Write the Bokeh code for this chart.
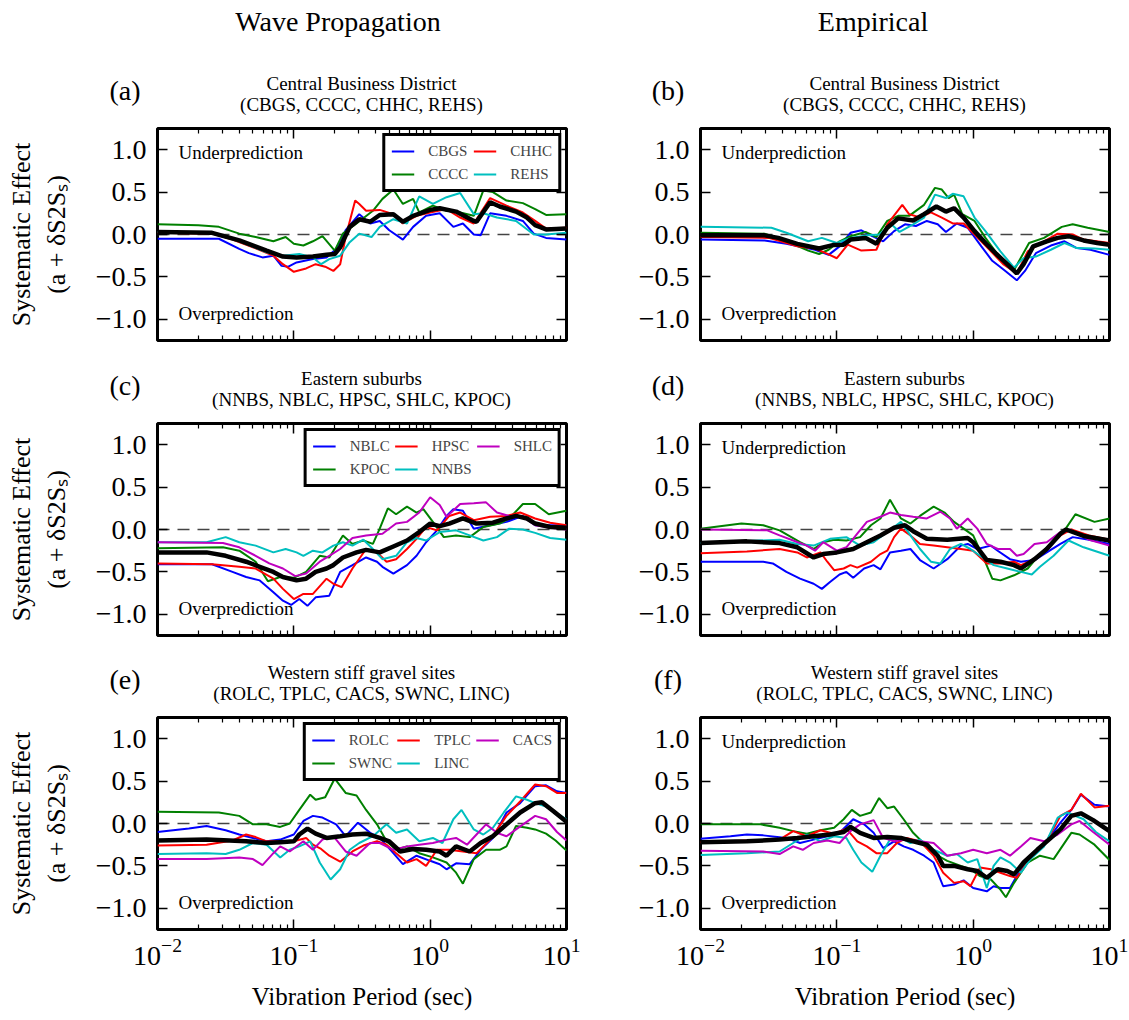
from bokeh.plotting import figure
from bokeh.models import (LogAxis, LinearAxis, FixedTicker, LogTickFormatter, Span, Label,
                          Legend, LegendItem, CustomJSTickFormatter, Div)
from bokeh.layouts import column, row
from bokeh.embed import file_html
from bokeh.resources import INLINE

# ---------------------------------------------------------------------------
# Systematic effect curves, stored as (log10 period [s], value) pairs
# ---------------------------------------------------------------------------

# (a) Central Business District, wave propagation
A_CBGS = [(-2.0, -0.05), (-1.55, -0.05), (-1.4, -0.17), (-1.33, -0.22), (-1.23, -0.27), (-1.15, -0.25),
          (-1.09, -0.37), (-1.04, -0.38), (-0.98, -0.33), (-0.86, -0.29), (-0.76, -0.27), (-0.69, -0.17),
          (-0.62, 0.05), (-0.52, 0.24), (-0.44, 0.13), (-0.37, 0.16), (-0.30, 0.05), (-0.20, -0.06),
          (-0.125, 0.09), (-0.03, 0.22), (0.07, 0.25), (0.17, 0.09), (0.24, 0.13), (0.32, 0.0),
          (0.37, -0.01), (0.44, 0.25), (0.56, 0.22), (0.68, 0.16), (0.76, 0.01), (0.85, -0.04), (1.0, -0.06)]
A_CCCC = [(-2.0, 0.12), (-1.7, 0.11), (-1.55, 0.09), (-1.4, 0.01), (-1.28, -0.03), (-1.15, -0.08),
          (-1.06, -0.03), (-1.0, -0.11), (-0.93, -0.13), (-0.86, -0.08), (-0.79, -0.02), (-0.70, -0.19),
          (-0.64, 0.01), (-0.54, 0.13), (-0.42, 0.28), (-0.35, 0.42), (-0.27, 0.53), (-0.20, 0.36),
          (-0.125, 0.42), (-0.08, 0.26), (0.02, 0.34), (0.12, 0.28), (0.22, 0.26), (0.32, 0.22),
          (0.39, 0.52), (0.46, 0.50), (0.56, 0.40), (0.68, 0.37), (0.77, 0.30), (0.85, 0.23), (1.0, 0.24)]
A_CHHC = [(-2.0, 0.02), (-1.6, 0.01), (-1.45, -0.06), (-1.3, -0.15), (-1.15, -0.25), (-1.08, -0.35),
          (-1.0, -0.44), (-0.91, -0.40), (-0.84, -0.35), (-0.77, -0.38), (-0.71, -0.43), (-0.66, -0.35),
          (-0.62, -0.03), (-0.55, 0.40), (-0.52, 0.36), (-0.47, 0.28), (-0.37, 0.29), (-0.27, 0.24),
          (-0.20, 0.13), (-0.10, 0.22), (0.0, 0.26), (0.12, 0.30), (0.22, 0.20), (0.32, 0.13),
          (0.44, 0.43), (0.56, 0.34), (0.68, 0.26), (0.77, 0.16), (0.85, 0.07), (1.0, 0.08)]
A_REHS = [(-2.0, 0.03), (-1.6, 0.02), (-1.4, -0.08), (-1.2, -0.21), (-1.08, -0.25), (-0.96, -0.23),
          (-0.86, -0.27), (-0.80, -0.35), (-0.74, -0.29), (-0.66, -0.25), (-0.59, -0.09), (-0.52, 0.01),
          (-0.43, -0.03), (-0.37, 0.09), (-0.27, 0.18), (-0.17, 0.13), (-0.08, 0.45), (0.02, 0.36),
          (0.12, 0.44), (0.22, 0.49), (0.32, 0.24), (0.39, 0.25), (0.49, 0.20), (0.63, 0.16),
          (0.76, 0.0), (0.85, 0.0), (1.0, 0.02)]
A_MEAN = [(-2.0, 0.03), (-1.6, 0.02), (-1.4, -0.07), (-1.2, -0.19), (-1.08, -0.26), (-0.98, -0.27),
          (-0.86, -0.26), (-0.76, -0.24), (-0.70, -0.23), (-0.66, -0.15), (-0.59, 0.09), (-0.52, 0.18),
          (-0.44, 0.15), (-0.37, 0.23), (-0.27, 0.24), (-0.20, 0.15), (-0.125, 0.22), (0.0, 0.29),
          (0.07, 0.31), (0.19, 0.27), (0.32, 0.16), (0.34, 0.15), (0.44, 0.38), (0.51, 0.33),
          (0.63, 0.27), (0.71, 0.20), (0.77, 0.11), (0.85, 0.06), (1.0, 0.07)]

# (b) Central Business District, empirical
B_CBGS = [(-2.0, -0.06), (-1.53, -0.07), (-1.37, -0.11), (-1.16, -0.18), (-1.06, -0.24), (-0.98, -0.14),
          (-0.90, 0.02), (-0.82, 0.05), (-0.74, -0.02), (-0.66, -0.08), (-0.58, 0.04), (-0.50, 0.12),
          (-0.42, 0.10), (-0.34, 0.16), (-0.26, 0.12), (-0.20, 0.03), (-0.12, 0.13), (-0.04, 0.08),
          (0.06, -0.14), (0.14, -0.31), (0.22, -0.41), (0.32, -0.54), (0.38, -0.43), (0.46, -0.22),
          (0.57, -0.13), (0.67, -0.08), (0.76, -0.16), (0.86, -0.18), (1.0, -0.24)]
B_CCCC = [(-2.0, 0.02), (-1.53, 0.01), (-1.37, -0.08), (-1.21, -0.19), (-1.13, -0.23), (-1.06, -0.18),
          (-0.98, -0.08), (-0.90, -0.02), (-0.79, 0.03), (-0.71, -0.03), (-0.63, 0.16), (-0.55, 0.22),
          (-0.47, 0.22), (-0.36, 0.35), (-0.28, 0.55), (-0.23, 0.53), (-0.18, 0.43), (-0.14, 0.47),
          (-0.08, 0.24), (0.01, 0.16), (0.09, -0.04), (0.20, -0.28), (0.30, -0.42), (0.41, -0.10),
          (0.52, -0.04), (0.65, 0.09), (0.73, 0.12), (0.84, 0.08), (1.0, 0.03)]
B_CHHC = [(-2.0, -0.03), (-1.5, -0.04), (-1.43, -0.07), (-1.29, -0.14), (-1.16, -0.165), (-1.08, -0.22),
          (-1.0, -0.28), (-0.92, -0.12), (-0.82, -0.19), (-0.71, -0.18), (-0.63, 0.12), (-0.52, 0.35),
          (-0.47, 0.24), (-0.39, 0.20), (-0.31, 0.26), (-0.23, 0.20), (-0.15, 0.13), (-0.07, 0.13),
          (0.01, 0.0), (0.12, -0.18), (0.22, -0.35), (0.32, -0.46), (0.40, -0.20), (0.52, -0.08),
          (0.62, 0.01), (0.73, 0.0), (0.81, -0.06), (1.0, -0.10)]
B_REHS = [(-2.0, 0.09), (-1.48, 0.08), (-1.37, 0.02), (-1.21, -0.08), (-1.11, -0.04), (-1.0, -0.10),
          (-0.90, -0.04), (-0.77, -0.01), (-0.69, 0.0), (-0.60, 0.12), (-0.54, 0.03), (-0.44, 0.12),
          (-0.36, 0.20), (-0.28, 0.47), (-0.20, 0.43), (-0.15, 0.48), (-0.07, 0.45), (0.01, 0.20),
          (0.09, 0.04), (0.20, -0.20), (0.30, -0.39), (0.37, -0.28), (0.46, -0.26), (0.57, -0.18),
          (0.67, -0.10), (0.76, -0.16), (0.89, -0.165), (1.0, -0.18)]
B_MEAN = [(-2.0, -0.01), (-1.53, -0.01), (-1.43, -0.04), (-1.29, -0.11), (-1.13, -0.165), (-1.03, -0.125),
          (-0.95, -0.12), (-0.90, -0.06), (-0.79, -0.04), (-0.71, -0.11), (-0.63, 0.08), (-0.55, 0.19),
          (-0.44, 0.165), (-0.36, 0.24), (-0.27, 0.33), (-0.20, 0.27), (-0.14, 0.31), (-0.07, 0.20),
          (0.01, 0.04), (0.09, -0.10), (0.17, -0.23), (0.25, -0.35), (0.32, -0.46), (0.37, -0.35),
          (0.44, -0.14), (0.54, -0.08), (0.62, -0.04), (0.70, -0.02), (0.81, -0.07), (0.91, -0.10), (1.0, -0.12)]

# (c) Eastern suburbs, wave propagation
C_NBLC = [(-2.0, -0.41), (-1.6, -0.41), (-1.45, -0.5), (-1.35, -0.56), (-1.25, -0.6), (-1.15, -0.74),
          (-1.08, -0.84), (-1.02, -0.89), (-0.96, -0.82), (-0.90, -0.90), (-0.84, -0.80), (-0.74, -0.78),
          (-0.66, -0.5), (-0.57, -0.42), (-0.47, -0.33), (-0.39, -0.38), (-0.35, -0.44), (-0.27, -0.52),
          (-0.17, -0.42), (-0.10, -0.31), (-0.03, -0.15), (0.05, -0.01), (0.12, 0.16), (0.17, 0.24),
          (0.24, 0.22), (0.32, 0.01), (0.44, 0.05), (0.56, 0.09), (0.68, 0.16), (0.77, 0.05), (0.88, 0.05), (1.0, 0.05)]
C_KPOC = [(-2.0, -0.22), (-1.52, -0.21), (-1.4, -0.25), (-1.28, -0.38), (-1.19, -0.61), (-1.10, -0.56),
          (-1.0, -0.57), (-0.91, -0.5), (-0.81, -0.31), (-0.74, -0.33), (-0.64, -0.07), (-0.57, -0.17),
          (-0.49, -0.13), (-0.42, -0.17), (-0.37, 0.01), (-0.31, 0.25), (-0.25, 0.18), (-0.17, 0.27),
          (-0.10, 0.20), (-0.05, 0.24), (0.02, 0.09), (0.10, -0.09), (0.19, -0.07), (0.29, -0.09),
          (0.39, 0.03), (0.51, 0.07), (0.58, 0.13), (0.68, 0.30), (0.77, 0.30), (0.87, 0.18), (1.0, 0.22)]
C_HPSC = [(-2.0, -0.40), (-1.6, -0.41), (-1.4, -0.44), (-1.28, -0.46), (-1.15, -0.58), (-1.08, -0.70),
          (-1.0, -0.82), (-0.93, -0.76), (-0.86, -0.76), (-0.76, -0.58), (-0.71, -0.64), (-0.65, -0.68),
          (-0.57, -0.46), (-0.47, -0.23), (-0.39, -0.27), (-0.32, -0.38), (-0.25, -0.35), (-0.17, -0.23),
          (-0.10, -0.11), (-0.03, 0.03), (0.05, -0.01), (0.14, 0.16), (0.22, 0.20), (0.32, 0.11),
          (0.44, 0.15), (0.56, 0.16), (0.66, 0.20), (0.77, 0.13), (0.88, 0.08), (1.0, 0.05)]
C_NNBS = [(-2.0, -0.15), (-1.64, -0.15), (-1.5, -0.09), (-1.4, -0.15), (-1.28, -0.19), (-1.15, -0.27),
          (-1.06, -0.23), (-0.98, -0.27), (-0.93, -0.31), (-0.86, -0.25), (-0.79, -0.27), (-0.71, -0.19),
          (-0.64, -0.15), (-0.57, -0.19), (-0.49, -0.12), (-0.42, -0.23), (-0.35, -0.35), (-0.25, -0.31),
          (-0.17, -0.15), (-0.10, -0.10), (-0.03, -0.13), (0.07, -0.03), (0.19, -0.01), (0.29, -0.07),
          (0.39, -0.13), (0.49, -0.09), (0.58, 0.01), (0.68, 0.0), (0.77, -0.04), (0.88, -0.10), (1.0, -0.12)]
C_SHLC = [(-2.0, -0.15), (-1.52, -0.16), (-1.4, -0.21), (-1.28, -0.31), (-1.18, -0.40), (-1.08, -0.46),
          (-0.99, -0.55), (-0.91, -0.52), (-0.81, -0.38), (-0.74, -0.31), (-0.66, -0.23), (-0.57, -0.10),
          (-0.47, -0.07), (-0.35, -0.05), (-0.25, 0.07), (-0.17, 0.09), (-0.08, 0.20), (0.0, 0.38),
          (0.07, 0.29), (0.12, 0.15), (0.22, 0.30), (0.32, 0.31), (0.41, 0.32), (0.49, 0.20),
          (0.58, 0.16), (0.68, 0.15), (0.77, 0.05), (0.88, 0.02), (1.0, 0.0)]
C_MEAN = [(-2.0, -0.27), (-1.64, -0.27), (-1.5, -0.31), (-1.35, -0.38), (-1.25, -0.44), (-1.15, -0.50),
          (-1.08, -0.56), (-0.98, -0.60), (-0.91, -0.58), (-0.84, -0.50), (-0.76, -0.46), (-0.71, -0.42),
          (-0.64, -0.33), (-0.54, -0.27), (-0.47, -0.24), (-0.37, -0.27), (-0.27, -0.20), (-0.17, -0.13),
          (-0.08, -0.03), (0.0, 0.07), (0.07, 0.04), (0.14, 0.07), (0.24, 0.13), (0.34, 0.07),
          (0.46, 0.08), (0.56, 0.13), (0.63, 0.16), (0.71, 0.13), (0.77, 0.07), (0.88, 0.03), (1.0, 0.02)]

# (d) Eastern suburbs, empirical
D_NBLC = [(-2.0, -0.38), (-1.54, -0.38), (-1.47, -0.40), (-1.37, -0.50), (-1.27, -0.58), (-1.17, -0.64),
          (-1.11, -0.70), (-1.05, -0.62), (-0.98, -0.53), (-0.93, -0.50), (-0.88, -0.57), (-0.80, -0.46),
          (-0.73, -0.42), (-0.68, -0.47), (-0.61, -0.27), (-0.53, -0.25), (-0.46, -0.23), (-0.39, -0.36),
          (-0.29, -0.46), (-0.19, -0.35), (-0.09, -0.19), (-0.04, -0.17), (0.03, -0.23), (0.13, -0.19),
          (0.18, -0.25), (0.27, -0.35), (0.35, -0.38), (0.45, -0.36), (0.54, -0.27), (0.64, -0.17),
          (0.73, -0.09), (0.85, -0.12), (1.0, -0.17)]
D_KPOC = [(-2.0, 0.01), (-1.7, 0.07), (-1.54, 0.05), (-1.42, -0.01), (-1.27, -0.15), (-1.17, -0.23),
          (-1.10, -0.15), (-1.02, -0.12), (-0.93, -0.13), (-0.83, -0.09), (-0.75, 0.05), (-0.68, 0.13),
          (-0.61, 0.35), (-0.53, 0.13), (-0.46, 0.07), (-0.39, 0.16), (-0.29, 0.27), (-0.21, 0.20),
          (-0.14, 0.09), (-0.07, 0.01), (0.0, -0.07), (0.08, -0.35), (0.14, -0.58), (0.20, -0.60),
          (0.30, -0.54), (0.40, -0.46), (0.49, -0.29), (0.59, -0.13), (0.67, -0.01), (0.75, 0.18),
          (0.89, 0.09), (1.0, 0.13)]
D_HPSC = [(-2.0, -0.28), (-1.66, -0.26), (-1.42, -0.23), (-1.29, -0.27), (-1.22, -0.33), (-1.12, -0.27),
          (-1.07, -0.38), (-1.02, -0.48), (-0.95, -0.46), (-0.90, -0.42), (-0.85, -0.45), (-0.75, -0.38),
          (-0.68, -0.29), (-0.63, -0.25), (-0.58, -0.09), (-0.53, 0.01), (-0.46, -0.07), (-0.39, -0.17),
          (-0.29, -0.19), (-0.19, -0.21), (-0.09, -0.23), (0.0, -0.25), (0.10, -0.40), (0.20, -0.40),
          (0.30, -0.38), (0.35, -0.42), (0.45, -0.35), (0.54, -0.23), (0.64, -0.07), (0.72, 0.0),
          (0.85, -0.07), (1.0, -0.12)]
D_NNBS = [(-2.0, -0.16), (-1.42, -0.12), (-1.29, -0.17), (-1.17, -0.19), (-1.05, -0.11), (-0.93, -0.09),
          (-0.83, -0.19), (-0.73, -0.15), (-0.63, -0.03), (-0.53, 0.09), (-0.46, -0.07), (-0.39, -0.23),
          (-0.31, -0.38), (-0.24, -0.40), (-0.17, -0.23), (-0.09, -0.17), (-0.02, -0.23), (0.05, -0.31),
          (0.15, -0.42), (0.25, -0.46), (0.35, -0.50), (0.43, -0.53), (0.49, -0.44), (0.59, -0.31),
          (0.70, -0.13), (0.81, -0.21), (1.0, -0.31)]
D_SHLC = [(-2.0, 0.0), (-1.51, -0.01), (-1.42, -0.07), (-1.32, -0.13), (-1.22, -0.19), (-1.16, -0.25),
          (-1.10, -0.15), (-1.0, -0.25), (-0.93, -0.21), (-0.85, -0.05), (-0.78, 0.09), (-0.68, 0.15),
          (-0.61, 0.20), (-0.53, 0.17), (-0.44, 0.15), (-0.34, 0.13), (-0.24, 0.21), (-0.17, 0.13),
          (-0.12, 0.01), (-0.04, 0.13), (0.03, 0.01), (0.10, -0.17), (0.18, -0.23), (0.27, -0.23),
          (0.32, -0.31), (0.37, -0.29), (0.45, -0.17), (0.54, -0.15), (0.64, -0.03), (0.72, -0.01),
          (0.85, -0.12), (1.0, -0.19)]
D_MEAN = [(-2.0, -0.16), (-1.66, -0.14), (-1.42, -0.16), (-1.29, -0.21), (-1.17, -0.33), (-1.10, -0.29),
          (-1.0, -0.27), (-0.88, -0.23), (-0.78, -0.15), (-0.68, -0.07), (-0.58, 0.02), (-0.50, 0.05),
          (-0.44, -0.02), (-0.34, -0.11), (-0.19, -0.12), (-0.04, -0.10), (0.0, -0.15), (0.10, -0.36),
          (0.20, -0.38), (0.30, -0.42), (0.35, -0.46), (0.45, -0.35), (0.54, -0.23), (0.64, -0.05),
          (0.68, 0.0), (0.82, -0.08), (1.0, -0.13)]

# (e) Western stiff gravel sites, wave propagation
E_ROLC = [(-2.0, -0.10), (-1.77, -0.06), (-1.64, -0.03), (-1.5, -0.08), (-1.4, -0.13), (-1.3, -0.17),
          (-1.2, -0.21), (-1.1, -0.19), (-1.0, -0.13), (-0.93, 0.03), (-0.86, 0.09), (-0.79, 0.07),
          (-0.69, -0.01), (-0.62, -0.15), (-0.53, 0.01), (-0.44, -0.11), (-0.37, -0.17), (-0.27, -0.35),
          (-0.20, -0.48), (-0.10, -0.38), (0.0, -0.44), (0.07, -0.48), (0.12, -0.54), (0.19, -0.47),
          (0.29, -0.48), (0.37, -0.31), (0.46, -0.17), (0.56, 0.13), (0.66, 0.24), (0.77, 0.44),
          (0.85, 0.45), (0.93, 0.38), (1.0, 0.36)]
E_SWNC = [(-2.0, 0.14), (-1.55, 0.13), (-1.4, 0.09), (-1.3, -0.01), (-1.2, -0.01), (-1.1, -0.04),
          (-1.03, 0.0), (-0.96, 0.16), (-0.88, 0.34), (-0.84, 0.28), (-0.77, 0.31), (-0.70, 0.53),
          (-0.62, 0.36), (-0.54, 0.33), (-0.47, 0.16), (-0.39, -0.01), (-0.32, -0.21), (-0.25, -0.31),
          (-0.17, -0.27), (-0.08, -0.35), (0.02, -0.40), (0.12, -0.46), (0.19, -0.58), (0.24, -0.71),
          (0.32, -0.42), (0.41, -0.31), (0.51, -0.31), (0.56, -0.27), (0.63, -0.03), (0.71, -0.05),
          (0.77, -0.07), (0.85, -0.12), (0.92, -0.2), (1.0, -0.32)]
E_TPLC = [(-2.0, -0.26), (-1.64, -0.25), (-1.45, -0.2), (-1.35, -0.13), (-1.28, -0.16), (-1.2, -0.21),
          (-1.0, -0.21), (-0.91, -0.17), (-0.86, -0.25), (-0.80, -0.30), (-0.74, -0.38), (-0.66, -0.45),
          (-0.57, -0.33), (-0.49, -0.26), (-0.39, -0.21), (-0.32, -0.25), (-0.25, -0.35), (-0.17, -0.46),
          (-0.10, -0.42), (-0.03, -0.50), (0.05, -0.31), (0.14, -0.31), (0.24, -0.33), (0.34, -0.35),
          (0.44, -0.19), (0.56, 0.09), (0.66, 0.26), (0.77, 0.46), (0.85, 0.44), (0.93, 0.36), (1.0, 0.36)]
E_LINC = [(-2.0, -0.36), (-1.64, -0.35), (-1.5, -0.36), (-1.4, -0.31), (-1.3, -0.23), (-1.2, -0.25),
          (-1.1, -0.40), (-1.03, -0.31), (-0.96, -0.27), (-0.88, -0.21), (-0.81, -0.46), (-0.73, -0.66),
          (-0.66, -0.54), (-0.59, -0.31), (-0.52, -0.23), (-0.42, -0.15), (-0.32, -0.01), (-0.25, -0.11),
          (-0.17, -0.07), (-0.08, -0.21), (0.02, -0.17), (0.09, -0.23), (0.17, 0.05), (0.23, 0.16),
          (0.32, -0.07), (0.39, -0.13), (0.46, -0.05), (0.54, 0.13), (0.63, 0.32), (0.71, 0.28),
          (0.77, 0.24), (0.85, 0.2), (0.93, 0.12), (1.0, 0.05)]
E_CACS = [(-2.0, -0.42), (-1.64, -0.42), (-1.4, -0.40), (-1.3, -0.42), (-1.23, -0.49), (-1.15, -0.35),
          (-1.1, -0.27), (-1.03, -0.33), (-0.93, -0.21), (-0.86, -0.31), (-0.79, -0.19), (-0.71, -0.15),
          (-0.62, -0.33), (-0.54, -0.38), (-0.44, -0.23), (-0.37, -0.23), (-0.27, -0.31), (-0.17, -0.27),
          (-0.08, -0.25), (0.02, -0.23), (0.12, -0.19), (0.19, -0.17), (0.27, -0.25), (0.34, -0.13),
          (0.41, -0.01), (0.49, -0.11), (0.56, -0.15), (0.63, -0.07), (0.77, 0.09), (0.85, 0.05),
          (0.93, -0.1), (1.0, -0.2)]
E_MEAN = [(-2.0, -0.20), (-1.64, -0.19), (-1.35, -0.21), (-1.2, -0.23), (-1.1, -0.22), (-1.0, -0.21),
          (-0.96, -0.13), (-0.90, -0.06), (-0.84, -0.12), (-0.76, -0.17), (-0.66, -0.15), (-0.57, -0.13),
          (-0.47, -0.12), (-0.37, -0.17), (-0.30, -0.21), (-0.22, -0.33), (-0.125, -0.30), (-0.03, -0.31),
          (0.07, -0.33), (0.12, -0.38), (0.19, -0.27), (0.29, -0.33), (0.37, -0.23), (0.46, -0.15),
          (0.56, -0.01), (0.66, 0.13), (0.77, 0.24), (0.82, 0.25), (0.90, 0.15), (1.0, 0.02)]

# (f) Western stiff gravel sites, empirical
F_ROLC = [(-2.0, -0.18), (-1.78, -0.15), (-1.66, -0.13), (-1.54, -0.14), (-1.37, -0.17), (-1.27, -0.23),
          (-1.17, -0.19), (-1.07, -0.15), (-0.98, -0.11), (-0.88, 0.05), (-0.80, -0.01), (-0.73, -0.11),
          (-0.66, -0.29), (-0.58, -0.21), (-0.51, -0.27), (-0.44, -0.31), (-0.36, -0.38), (-0.29, -0.46),
          (-0.22, -0.74), (-0.14, -0.72), (-0.07, -0.67), (0.0, -0.76), (0.10, -0.80), (0.15, -0.74),
          (0.20, -0.76), (0.27, -0.76), (0.32, -0.62), (0.42, -0.40), (0.54, -0.21), (0.64, 0.01),
          (0.72, 0.16), (0.79, 0.34), (0.89, 0.22), (1.0, 0.20)]
F_SWNC = [(-2.0, -0.01), (-1.56, -0.01), (-1.42, -0.05), (-1.32, -0.09), (-1.22, -0.12), (-1.12, -0.08),
          (-1.02, -0.05), (-0.95, 0.05), (-0.89, 0.16), (-0.83, 0.09), (-0.75, 0.13), (-0.69, 0.30),
          (-0.63, 0.18), (-0.58, 0.20), (-0.51, 0.05), (-0.44, -0.11), (-0.34, -0.27), (-0.26, -0.38),
          (-0.19, -0.44), (-0.09, -0.50), (-0.02, -0.54), (0.05, -0.62), (0.13, -0.66), (0.20, -0.78),
          (0.24, -0.87), (0.30, -0.70), (0.40, -0.46), (0.49, -0.38), (0.59, -0.42), (0.72, -0.11),
          (0.78, -0.13), (0.89, -0.25), (1.0, -0.43)]
F_TPLC = [(-2.0, -0.22), (-1.66, -0.20), (-1.42, -0.19), (-1.32, -0.09), (-1.22, -0.15), (-1.12, -0.08),
          (-1.02, -0.12), (-0.93, -0.06), (-0.85, -0.21), (-0.78, -0.27), (-0.71, -0.35), (-0.63, -0.35),
          (-0.56, -0.23), (-0.49, -0.17), (-0.39, -0.21), (-0.29, -0.38), (-0.22, -0.58), (-0.14, -0.70),
          (-0.07, -0.68), (-0.02, -0.74), (0.05, -0.52), (0.13, -0.54), (0.20, -0.58), (0.27, -0.62),
          (0.32, -0.64), (0.42, -0.40), (0.54, -0.21), (0.64, 0.09), (0.72, 0.16), (0.79, 0.35),
          (0.89, 0.19), (1.0, 0.21)]
F_LINC = [(-2.0, -0.37), (-1.66, -0.35), (-1.42, -0.33), (-1.32, -0.23), (-1.22, -0.13), (-1.12, -0.21),
          (-1.02, -0.15), (-0.93, -0.17), (-0.88, -0.31), (-0.82, -0.46), (-0.74, -0.57), (-0.68, -0.38),
          (-0.61, -0.19), (-0.53, -0.17), (-0.46, -0.23), (-0.39, -0.19), (-0.29, -0.31), (-0.19, -0.38),
          (-0.12, -0.36), (-0.04, -0.46), (0.03, -0.42), (0.10, -0.76), (0.15, -0.50), (0.20, -0.40),
          (0.27, -0.46), (0.35, -0.58), (0.42, -0.42), (0.52, -0.27), (0.62, 0.07), (0.69, 0.13),
          (0.81, 0.05), (0.90, -0.1), (1.0, -0.21)]
F_CACS = [(-2.0, -0.32), (-1.54, -0.33), (-1.42, -0.36), (-1.32, -0.27), (-1.25, -0.31), (-1.17, -0.23),
          (-1.07, -0.20), (-0.98, -0.23), (-0.90, -0.09), (-0.83, -0.01), (-0.73, 0.04), (-0.66, -0.17),
          (-0.58, -0.21), (-0.49, -0.19), (-0.39, -0.21), (-0.29, -0.23), (-0.19, -0.38), (-0.09, -0.35),
          (0.0, -0.31), (0.10, -0.35), (0.20, -0.31), (0.27, -0.38), (0.35, -0.27), (0.42, -0.17),
          (0.52, -0.21), (0.62, -0.13), (0.72, -0.01), (0.78, 0.03), (0.88, -0.1), (1.0, -0.25)]
F_MEAN = [(-2.0, -0.22), (-1.66, -0.21), (-1.42, -0.19), (-1.29, -0.17), (-1.17, -0.15), (-1.05, -0.13),
          (-0.95, -0.10), (-0.90, -0.04), (-0.83, -0.11), (-0.73, -0.17), (-0.63, -0.16), (-0.53, -0.17),
          (-0.44, -0.21), (-0.34, -0.25), (-0.26, -0.38), (-0.22, -0.50), (-0.14, -0.50), (-0.04, -0.54),
          (0.03, -0.56), (0.10, -0.64), (0.18, -0.54), (0.25, -0.56), (0.30, -0.60), (0.37, -0.46),
          (0.47, -0.31), (0.57, -0.17), (0.64, -0.07), (0.72, 0.09), (0.79, 0.12), (0.88, 0.04), (1.0, -0.09)]

COLUMN_TITLES = ["Wave Propagation", "Empirical"]
GROUP_NAMES = ["Central Business District", "Eastern suburbs", "Western stiff gravel sites"]
GROUP_SITES = ["(CBGS, CCCC, CHHC, REHS)", "(NNBS, NBLC, HPSC, SHLC, KPOC)", "(ROLC, TPLC, CACS, SWNC, LINC)"]
PANEL_LETTERS = [["(a)", "(b)"], ["(c)", "(d)"], ["(e)", "(f)"]]
Y_TICKS = [-1.0, -0.5, 0.0, 0.5, 1.0]
X_DECADES = [-2, -1, 0, 1]

# site series per row, in the matplotlib colour-cycle order b, g, r, c, m
ROW_SERIES = [
    [[("CBGS", A_CBGS), ("CCCC", A_CCCC), ("CHHC", A_CHHC), ("REHS", A_REHS)],
     [("CBGS", B_CBGS), ("CCCC", B_CCCC), ("CHHC", B_CHHC), ("REHS", B_REHS)]],
    [[("NBLC", C_NBLC), ("KPOC", C_KPOC), ("HPSC", C_HPSC), ("NNBS", C_NNBS), ("SHLC", C_SHLC)],
     [("NBLC", D_NBLC), ("KPOC", D_KPOC), ("HPSC", D_HPSC), ("NNBS", D_NNBS), ("SHLC", D_SHLC)]],
    [[("ROLC", E_ROLC), ("SWNC", E_SWNC), ("TPLC", E_TPLC), ("LINC", E_LINC), ("CACS", E_CACS)],
     [("ROLC", F_ROLC), ("SWNC", F_SWNC), ("TPLC", F_TPLC), ("LINC", F_LINC), ("CACS", F_CACS)]],
]
ROW_MEANS = [[A_MEAN, B_MEAN], [C_MEAN, D_MEAN], [E_MEAN, F_MEAN]]

CYCLE = ["#0000ff", "#008000", "#ff0000", "#00bfbf", "#bf00bf"]
SERIF = "Liberation Serif"

# page geometry (pixels)
FRAME_W, FRAME_H = 409, 212
COL_W = [580, 549]
COL_BL = [157, 120]
COL_BR = [COL_W[0] - COL_BL[0] - FRAME_W, COL_W[1] - COL_BL[1] - FRAME_W]
COL_TITLE_X = [338, 293]        # column titles sit slightly left of the frame centre
HEAD_H = [120, 63, 61]          # heading strip above each row of panels
FIG_BT = 8
FIG_BB = [12, 13, 91]

BLANK = "return '';"
MINUS = "return tick.toFixed(1).replace('-', '\u2212');"


def xy(series):
    return [10.0 ** t for t, _ in series], [v for _, v in series]


def style_axis(ax, labelled, size="28px"):
    ax.axis_line_color = None
    ax.major_tick_in = 10
    ax.major_tick_out = 0
    ax.minor_tick_in = 5
    ax.minor_tick_out = 0
    ax.major_tick_line_width = 1.5
    ax.minor_tick_line_width = 1.2
    ax.major_tick_line_color = "black"
    ax.minor_tick_line_color = "black"
    ax.major_label_text_font = SERIF
    ax.major_label_text_color = "black"
    if labelled:
        ax.major_label_text_font_size = size
    else:
        ax.major_label_text_font_size = "1px"
        ax.major_label_standoff = 0


def axis_title(ax, text, size, standoff):
    ax.axis_label = text
    ax.axis_label_text_font = SERIF
    ax.axis_label_text_font_size = size
    ax.axis_label_text_font_style = "normal"
    ax.axis_label_text_color = "black"
    ax.axis_label_standoff = standoff


def x_ticker():
    majors = [10.0 ** d for d in X_DECADES]
    minors = [m * 10.0 ** d for d in X_DECADES[:-1] for m in range(2, 10)]
    return FixedTicker(ticks=majors, minor_ticks=minors)


def y_ticker():
    return FixedTicker(ticks=Y_TICKS, minor_ticks=[])


def inner_text(p, s, x, y):
    p.add_layout(Label(x=x, y=y, x_units="screen", y_units="screen", text=s,
                       text_font=SERIF, text_font_size="19px", text_align="left",
                       text_baseline="middle", text_color="black"))


def heading(r, c):
    """Strip of text above a panel: column title, panel letter and site group."""
    w, h = COL_W[c], HEAD_H[r]
    cx = COL_BL[c] + FRAME_W / 2
    top = h + FIG_BT                      # frame top, measured from the strip top
    entries = [(PANEL_LETTERS[r][c], COL_BL[c] - 32, top - 37, 28),
               (GROUP_NAMES[r], cx, top - 45, 19),
               (GROUP_SITES[r], cx, top - 24, 19)]
    if r == 0:
        entries.append((COLUMN_TITLES[c], COL_TITLE_X[c], 22, 28))
    spans = "".join(
        f'<span style="position:absolute;left:{x}px;top:{y}px;transform:translate(-50%,-50%);'
        f'font-size:{fs}px;white-space:nowrap;">{t}</span>'
        for t, x, y, fs in entries)
    html = (f'<div style="position:relative;width:{w}px;height:{h}px;overflow:visible;'
            f"font-family:'{SERIF}',serif;color:black;line-height:1;\">{spans}</div>")
    return Div(text=html, width=w, height=h, margin=0)


def make_panel(r, c):
    last_row = r == 2
    p = figure(width=COL_W[c], height=FIG_BT + FRAME_H + FIG_BB[r], x_axis_type="log",
               x_range=(0.01, 10), y_range=(-1.25, 1.25),
               output_backend="svg", toolbar_location=None, tools="",
               min_border_left=COL_BL[c], min_border_right=COL_BR[c],
               min_border_top=FIG_BT, min_border_bottom=FIG_BB[r])
    p.background_fill_color = "white"
    p.border_fill_color = "white"
    p.outline_line_color = "black"
    p.outline_line_width = 3
    p.xgrid.visible = False
    p.ygrid.visible = False

    bottom = p.xaxis[0]
    bottom.ticker = x_ticker()
    bottom.formatter = LogTickFormatter() if last_row else CustomJSTickFormatter(code=BLANK)
    style_axis(bottom, last_row)
    if last_row:
        bottom.major_label_standoff = 9
        axis_title(bottom, "Vibration Period (sec)", "25px", 15)

    left = p.yaxis[0]
    left.ticker = y_ticker()
    left.formatter = CustomJSTickFormatter(code=MINUS)
    style_axis(left, True)
    left.major_label_standoff = 11
    if c == 0:
        axis_title(left, "Systematic Effect\n(a + \u03b4S2S\u209b)", "26px", 22)

    top = LogAxis(ticker=x_ticker(), formatter=CustomJSTickFormatter(code=BLANK))
    style_axis(top, False)
    p.add_layout(top, "above")
    right = LinearAxis(ticker=y_ticker(), formatter=CustomJSTickFormatter(code=BLANK))
    style_axis(right, False)
    p.add_layout(right, "right")

    p.add_layout(Span(location=0, dimension="width", line_color="#444444",
                      line_width=1.5, line_dash="12 8", level="underlay"))

    items = []
    for k, (name, series) in enumerate(ROW_SERIES[r][c]):
        xs, ys = xy(series)
        rend = p.line(xs, ys, line_color=CYCLE[k], line_width=2.0)
        items.append(LegendItem(label=name, renderers=[rend]))
    mx, my = xy(ROW_MEANS[r][c])
    p.line(mx, my, line_color="black", line_width=4.5)

    if c == 0:
        legend = Legend(items=items, location="top_right", orientation="vertical", nrows=2,
                        label_text_font=SERIF, label_text_font_size="15px",
                        glyph_width=23, glyph_height=18, label_height=18,
                        label_standoff=14, spacing=5, padding=6, margin=5,
                        border_line_color="black", border_line_width=3, border_line_alpha=1.0,
                        background_fill_color="white", background_fill_alpha=1.0)
        p.add_layout(legend)

    if not (c == 0 and r > 0):
        inner_text(p, "Underprediction", 21, FRAME_H - 24)
    inner_text(p, "Overprediction", 21, 27)
    return p


blocks = []
for r in range(3):
    blocks.append(row(heading(r, 0), heading(r, 1)))
    blocks.append(row(make_panel(r, 0), make_panel(r, 1)))
layout = column(*blocks)

open("out.html", "w").write(file_html(layout, INLINE, title="Systematic effect"))
